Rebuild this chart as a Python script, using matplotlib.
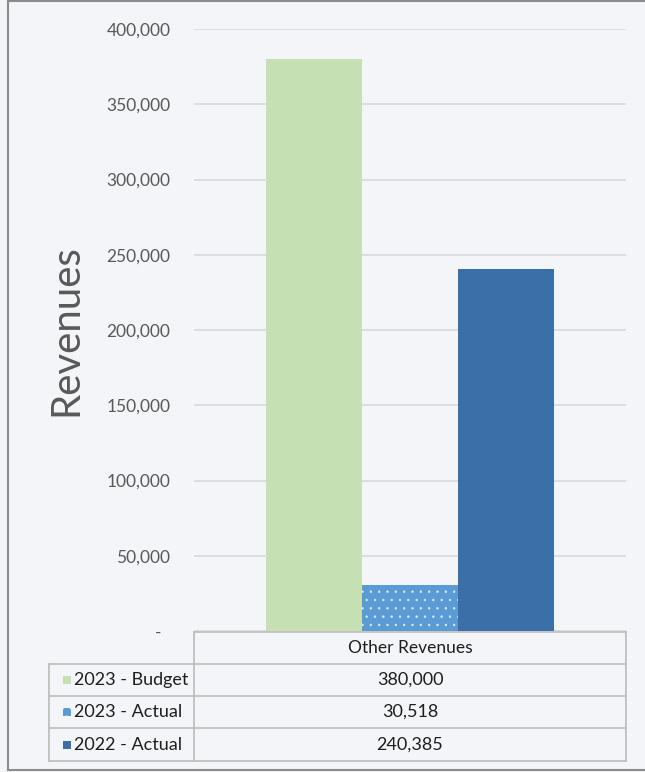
import matplotlib.pyplot as plt
from matplotlib.lines import Line2D
from matplotlib.patches import Rectangle
from matplotlib.ticker import FuncFormatter
import matplotlib as mpl

plt.rcParams["font.family"] = ["Lato", "DejaVu Sans"]
mpl.rcParams["hatch.color"] = "#dfeaf6"
mpl.rcParams["hatch.linewidth"] = 0.5

category = "Other Revenues"
series = ["2023 - Budget", "2023 - Actual", "2022 - Actual"]
values = [380000, 30518, 240385]
colors = ["#c5e0b3", "#5b9bd5", "#3b6fa7"]
hatches = [None, "..", None]

W, H = 645, 772
fig = plt.figure(figsize=(W / 100, H / 100), dpi=100)
fig.patch.set_facecolor("#f3f5f8")


def fx(px):
    return px / W


def fy(py):
    return 1 - py / H


ax_left, ax_right, ax_top, ax_bottom = 194, 626, 29, 631
ax = fig.add_axes([fx(ax_left), fy(ax_bottom), fx(ax_right - ax_left), fy(ax_top) - fy(ax_bottom)])
ax.set_facecolor("none")

for i, (v, c, h) in enumerate(zip(values, colors, hatches)):
    ax.bar(i - 1, v, width=1.0, color=c, hatch=h, linewidth=0, zorder=3)

ax.set_xlim(-2.25, 2.25)
ax.set_ylim(0, 400000)
ax.set_yticks(range(0, 400001, 50000))
ax.yaxis.set_major_formatter(FuncFormatter(lambda v, p: "-  " if v == 0 else f"{int(v):,}"))
ax.tick_params(axis="y", length=0, pad=17, labelsize=12.5, labelcolor="#595959")
ax.set_xticks([])
ax.grid(axis="y", color="#d9d9d9", linewidth=1.2, zorder=0)
for s in ax.spines.values():
    s.set_visible(False)

fig.text(fx(66), fy(330), "Revenues", rotation=90, ha="center", va="center",
         fontsize=29, color="#595959")

# data table under the plot
line_kw = dict(color="#bfbfbf", linewidth=1.3)
tbl_left, rows_y = 49, [632, 664, 696, 728, 761]


def hline(x0, x1, y):
    fig.add_artist(Line2D([fx(x0), fx(x1)], [fy(y), fy(y)], **line_kw))


def vline(x, y0, y1):
    fig.add_artist(Line2D([fx(x), fx(x)], [fy(y0), fy(y1)], **line_kw))


hline(ax_left, ax_right, rows_y[0])
for y in rows_y[1:]:
    hline(tbl_left, ax_right, y)
vline(ax_left, rows_y[0], rows_y[-1])
vline(ax_right, rows_y[0], rows_y[-1])
vline(tbl_left, rows_y[1], rows_y[-1])

col_x = (ax_left + ax_right) / 2
fig.text(fx(col_x), fy((rows_y[0] + rows_y[1]) / 2), category, ha="center", va="center",
         fontsize=12.5, color="#1f1f1f")
for i, (name, v, c, h) in enumerate(zip(series, values, colors, hatches)):
    yc = (rows_y[i + 1] + rows_y[i + 2]) / 2
    fig.add_artist(Rectangle((fx(63), fy(yc + 4)), fx(8), fy(yc - 4) - fy(yc + 4),
                             facecolor=c, hatch=h, linewidth=0, transform=fig.transFigure))
    fig.text(fx(74), fy(yc), name, ha="left", va="center", fontsize=13, color="#1f1f1f")
    fig.text(fx(col_x), fy(yc), f"{v:,}", ha="center", va="center", fontsize=13, color="#1f1f1f")

# frame around the chart
frame_kw = dict(color="#8c8c8c", linewidth=1.5)
fig.add_artist(Line2D([fx(8), fx(8)], [fy(1), fy(770)], **frame_kw))
fig.add_artist(Line2D([fx(8), 1], [fy(1), fy(1)], **frame_kw))
fig.add_artist(Line2D([fx(8), 1], [fy(770), fy(770)], **frame_kw))

fig.savefig("out.png", dpi=100, facecolor=fig.get_facecolor())
